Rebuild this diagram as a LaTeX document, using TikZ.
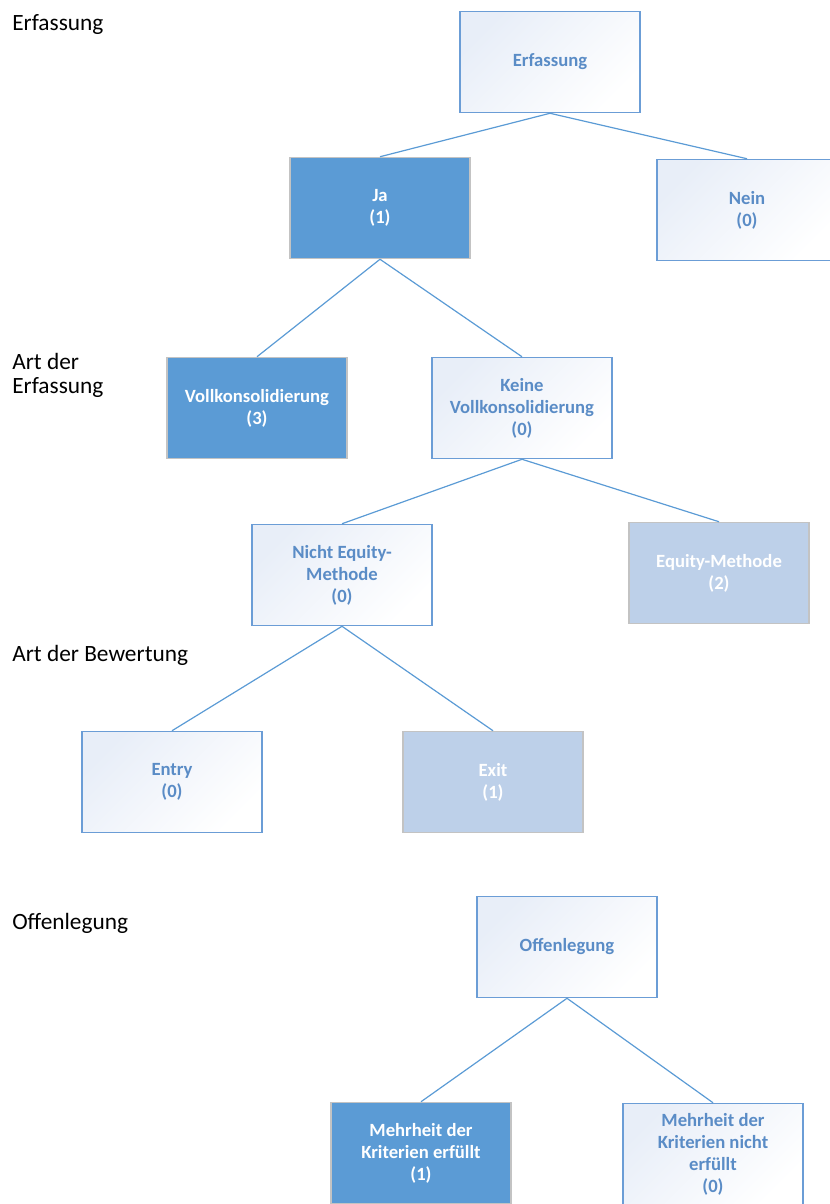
\documentclass[tikz,border=0pt]{standalone}
\usepackage{fontspec}
\setmainfont{Carlito}
\usepackage{xcolor}
\usetikzlibrary{positioning}
\definecolor{boxBlue}{HTML}{5B9BD5}
\definecolor{boxPale}{HTML}{BDD0E9}
\definecolor{boxEdge}{HTML}{C3C3C3}
\definecolor{boxLine}{HTML}{6B9DD6}
\definecolor{boxInk}{HTML}{5A8CC6}
\definecolor{boxTint}{HTML}{E8EEF8}
\def\boxW{135pt}
\def\boxH{76pt}

\begin{document}
\begin{tikzpicture}[
    x=0.75pt, y=-0.75pt,
    every node/.style={inner sep=0pt, align=center},
    box/.style={rectangle, minimum width=\boxW, minimum height=\boxH,
        font=\bfseries\fontsize{14}{16.5}\selectfont},
    plain/.style={box, draw=boxLine, line width=0.9pt, text=boxInk,
        top color=boxTint, bottom color=white, shading angle=45},
    full/.style={box, draw=boxEdge, line width=0.9pt, fill=boxBlue, text=white},
    pale/.style={box, draw=boxEdge, line width=0.9pt, fill=boxPale, text=white},
    level/.style={anchor=base west, align=left,
        font=\fontsize{17.5}{18}\selectfont},
    link/.style={draw=boxBlue, line width=0.9pt}
]
\useasboundingbox (0,0) rectangle (830,1204);

% level labels
\node[level] (lErf) at (12,30) {Erfassung};
\node[level] (lArt) at (12,393) {Art der\\Erfassung};
\node[level] (lBew) at (12,661) {Art der Bewertung};
\node[level] (lOff) at (12,929) {Offenlegung};

% Erfassung tree
\node[plain] (erf) at (550,62) {Erfassung};
\node[full] (ja) at (380,208) {Ja\\(1)};
\node[plain] (nein) at (747,210) {Nein\\(0)};
\node[full] (voll) at (257,408) {Vollkonsolidierung\\(3)};
\node[plain] (keine) at (522,408) {Keine\\Vollkonsolidierung\\(0)};
\node[plain] (nicht) at (342,575) {Nicht Equity-\\Methode\\(0)};
\node[pale] (equity) at (719,573) {Equity-Methode\\(2)};
\node[plain] (entry) at (172,782) {Entry\\(0)};
\node[pale] (exit) at (493,782) {Exit\\(1)};

\draw[link] (erf.south) -- (ja.north);
\draw[link] (erf.south) -- (nein.north);
\draw[link] (ja.south) -- (voll.north);
\draw[link] (ja.south) -- (keine.north);
\draw[link] (keine.south) -- (nicht.north);
\draw[link] (keine.south) -- (equity.north);
\draw[link] (nicht.south) -- (entry.north);
\draw[link] (nicht.south) -- (exit.north);

% Offenlegung tree
\node[plain] (off) at (567,947) {Offenlegung};
\node[full] (mehr) at (421,1153) {Mehrheit der\\Kriterien erfüllt\\(1)};
\node[plain] (mehrn) at (713,1154) {Mehrheit der\\Kriterien nicht\\erfüllt\\(0)};

\draw[link] (off.south) -- (mehr.north);
\draw[link] (off.south) -- (mehrn.north);
\end{tikzpicture}
\end{document}
